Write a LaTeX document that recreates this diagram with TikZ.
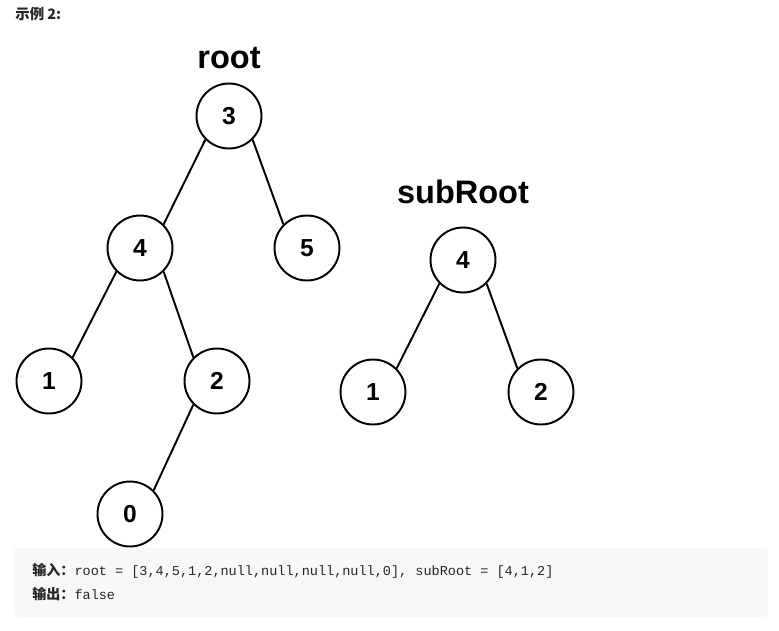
\documentclass[tikz,border=0pt]{standalone}
\usepackage{fontspec}
\setmainfont{Liberation Sans}
\setmonofont{Liberation Mono}
\newfontfamily\cjk{Noto Sans CJK SC}
\usetikzlibrary{positioning}

\definecolor{boxgray}{RGB}{247,248,250}
\definecolor{txtgray}{RGB}{38,38,38}

\tikzset{
  tnode/.style={draw, circle, line width=1.1pt, minimum size=1.3cm, inner sep=0,
    font=\fontsize{14}{14}\selectfont\bfseries},
  tedge/.style={line width=1.1pt},
  tlabel/.style={font=\fontsize{18.5}{18.5}\selectfont\bfseries}
}

\begin{document}
\begin{tikzpicture}[x=0.02cm, y=-0.02cm]
  \useasboundingbox (0,0) rectangle (779,630);

  \node[anchor=west, inner sep=0, text=txtgray] (title) at (15,14)
    {\cjk\fontsize{8.2}{8.2}\selectfont\bfseries 示例 2\textbf{:}};

  %---------------- root ----------------
  \node[tlabel] (rootlbl) at (229,58) {root};
  \node[tnode] (n3) at (229,116) {3};
  \node[tnode] (n4) at (140,248) {4};
  \node[tnode] (n5) at (307,248) {5};
  \node[tnode] (n1) at (49,381) {1};
  \node[tnode] (n2) at (217,381) {2};
  \node[tnode] (n0) at (130,514) {0};

  \draw[tedge] (n3.south west) -- (n4.north east);
  \draw[tedge] (n3.south east) -- (n5.north west);
  \draw[tedge] (n4.south west) -- (n1.north east);
  \draw[tedge] (n4.south east) -- (n2.north west);
  \draw[tedge] (n2.south west) -- (n0.north east);

  %---------------- subRoot ----------------
  \node[tlabel] (sublbl) at (463,192) {subRoot};
  \node[tnode] (s4) at (463,260) {4};
  \node[tnode] (s1) at (373,392) {1};
  \node[tnode] (s2) at (541,392) {2};

  \draw[tedge] (s4.south west) -- (s1.north east);
  \draw[tedge] (s4.south east) -- (s2.north west);

  %---------------- input / output ----------------
  \fill[boxgray, rounded corners=2pt] (14,548) rectangle (768,617);
  \node[anchor=west, inner sep=0, text=txtgray] (inp) at (32,571)
    {{\cjk\fontsize{8}{8}\selectfont\bfseries 输入：}{\ttfamily\fontsize{7.7}{7.7}\selectfont root = [3,4,5,1,2,null,null,null,null,0], subRoot = [4,1,2]}};
  \node[anchor=west, inner sep=0, text=txtgray] (outp) at (32,594)
    {{\cjk\fontsize{8}{8}\selectfont\bfseries 输出：}{\ttfamily\fontsize{7.7}{7.7}\selectfont false}};
\end{tikzpicture}
\end{document}
